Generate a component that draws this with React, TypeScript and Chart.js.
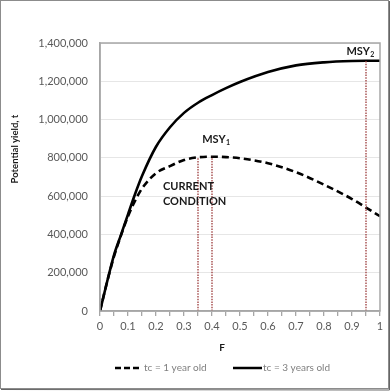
import React, { useEffect, useRef } from "react";
import { Chart, registerables } from "chart.js";

Chart.register(...registerables);

const fValues = [0, 0.025, 0.05, 0.075, 0.1, 0.125, 0.15, 0.2, 0.25, 0.3, 0.35, 0.4, 0.45, 0.5, 0.6, 0.7, 0.8, 0.9, 0.95, 1.0];
const yieldTc1 = [0, 150000, 285000, 395000, 495000, 575000, 640000, 720000, 757000, 789000, 803000, 806000, 804000, 798000, 772000, 725000, 660000, 585000, 540000, 495000];
const yieldTc3 = [0, 150000, 292000, 398000, 505000, 610000, 705000, 858000, 960000, 1035000, 1088000, 1128000, 1164000, 1196000, 1248000, 1283000, 1299000, 1306000, 1307000, 1307000];
const refF = [0.35, 0.4, 0.95];
const refTop = [803000, 806000, 1307000];
const yTicks = [0, 200000, 400000, 600000, 800000, 1000000, 1200000, 1400000];
const seriesLabels = ["tc = 1 year old", "tc = 3 years old"];

const FONT = "Lato, 'Liberation Sans', sans-serif";

export default function App() {
  const ref = useRef<HTMLCanvasElement>(null);
  useEffect(() => {
    if (!ref.current) return;
    const overlay = {
      id: "overlay",
      afterDraw(chart: any) {
        const ctx = chart.ctx;
        const ca = chart.chartArea;
        const xs = chart.scales.x;
        const ys = chart.scales.y;
        ctx.save();
        // plot area frame
        ctx.strokeStyle = "#a6a6a6";
        ctx.lineWidth = 1.5;
        ctx.strokeRect(ca.left, ca.top, ca.right - ca.left, ca.bottom - ca.top);
        // outer frame
        ctx.strokeStyle = "#8c8c8c";
        ctx.lineWidth = 1;
        ctx.strokeRect(0.5, 0.5, 388, 388);
        ctx.strokeStyle = "#666";
        ctx.beginPath();
        ctx.moveTo(389.5, 1);
        ctx.lineTo(389.5, 390);
        ctx.lineTo(1, 389.5);
        ctx.stroke();

        // annotation texts
        ctx.fillStyle = "#1a1a1a";
        ctx.textBaseline = "middle";
        ctx.textAlign = "left";
        const drawMsy = (x: number, y: number, sub: string) => {
          ctx.font = `bold 11px ${FONT}`;
          ctx.fillText("MSY", x, y);
          const w = ctx.measureText("MSY").width;
          ctx.font = `bold 7px ${FONT}`;
          ctx.fillText(sub, x + w + 0.5, y + 3);
        };
        drawMsy(xs.getPixelForValue(0.365), ys.getPixelForValue(895000), "1");
        drawMsy(xs.getPixelForValue(0.88), ys.getPixelForValue(1354000), "2");
        ctx.font = `bold 11px ${FONT}`;
        ctx.fillText("CURRENT", xs.getPixelForValue(0.225), ys.getPixelForValue(653000));
        ctx.fillText("CONDITION", xs.getPixelForValue(0.225), ys.getPixelForValue(572000));

        // axis titles
        ctx.fillStyle = "#1a1a1a";
        ctx.font = `bold 10px ${FONT}`;
        ctx.textAlign = "center";
        ctx.fillText("F", 222, 348);
        ctx.save();
        ctx.translate(15, 149);
        ctx.rotate(-Math.PI / 2);
        ctx.font = `bold 9.5px ${FONT}`;
        ctx.fillText("Potential yield, t", 0, 0);
        ctx.restore();

        // legend
        ctx.strokeStyle = "#000";
        ctx.lineWidth = 2.5;
        ctx.setLineDash([6, 3]);
        ctx.beginPath();
        ctx.moveTo(115, 368);
        ctx.lineTo(141, 368);
        ctx.stroke();
        ctx.setLineDash([]);
        ctx.beginPath();
        ctx.moveTo(233, 368);
        ctx.lineTo(262, 368);
        ctx.stroke();
        ctx.fillStyle = "#7f7f7f";
        ctx.font = `10px ${FONT}`;
        ctx.textAlign = "left";
        ctx.fillText(seriesLabels[0], 144, 368);
        ctx.fillText(seriesLabels[1], 263, 368);
        ctx.restore();
      },
    };

    const refDatasets = refF.map((f, i) => ({
      label: "ref" + i,
      data: [
        { x: f, y: 0 },
        { x: f, y: refTop[i] },
      ],
      borderColor: "#9c3b3b",
      borderWidth: 1.3,
      borderDash: [1.5, 1.2],
      pointRadius: 0,
      tension: 0,
    }));

    const chart = new Chart(ref.current, {
      type: "line",
      data: {
        datasets: [
          ...refDatasets,
          {
            label: seriesLabels[0],
            data: fValues.map((f, i) => ({ x: f, y: yieldTc1[i] })),
            borderColor: "#000",
            borderWidth: 2.6,
            borderDash: [7, 4],
            pointRadius: 0,
            cubicInterpolationMode: "monotone",
          },
          {
            label: seriesLabels[1],
            data: fValues.map((f, i) => ({ x: f, y: yieldTc3[i] })),
            borderColor: "#000",
            borderWidth: 2.6,
            pointRadius: 0,
            cubicInterpolationMode: "monotone",
          },
        ],
      },
      options: {
        animation: false,
        responsive: false,
        maintainAspectRatio: false,
        layout: { padding: { top: 43, right: 12, left: 0, bottom: 0 } },
        plugins: { legend: { display: false }, tooltip: { enabled: false }, title: { display: false } },
        scales: {
          x: {
            type: "linear",
            min: 0,
            max: 1,
            afterFit: (s: any) => {
              s.height = 81;
            },
            afterBuildTicks: (s: any) => {
              const t = [];
              for (let i = 0; i <= 20; i++) t.push({ value: i / 20 });
              s.ticks = t;
            },
            ticks: {
              autoSkip: false,
              maxRotation: 0,
              padding: 4,
              color: "#595959",
              font: { family: FONT, size: 11 },
              callback: (v: any) => {
                const k = Math.round(Number(v) * 20);
                if (k % 2 !== 0) return "";
                const val = k / 20;
                return val === 0 ? "0" : val === 1 ? "1" : val.toFixed(1);
              },
            },
            grid: { display: true, drawOnChartArea: false, drawTicks: true, tickLength: 5, color: "#a6a6a6", lineWidth: 1.3 },
            border: { display: true, color: "#a6a6a6", width: 1.5 },
          },
          y: {
            type: "linear",
            min: 0,
            max: 1400000,
            afterFit: (s: any) => {
              s.width = 100;
            },
            afterBuildTicks: (s: any) => {
              s.ticks = yTicks.map((v) => ({ value: v }));
            },
            ticks: {
              padding: 12,
              color: "#595959",
              font: { family: FONT, size: 11 },
              callback: (v: any) => Number(v).toLocaleString("en-US"),
            },
            grid: { color: "#e6e6e6", drawTicks: false, lineWidth: 1 },
            border: { display: true, color: "#a6a6a6", width: 1.5 },
          },
        },
      },
      plugins: [overlay],
    } as any);
    return () => chart.destroy();
  }, []);
  return (
    <div style={{ position: "fixed", left: 0, top: 0, width: 392, height: 392, background: "#fff" }}>
      <canvas ref={ref} width={392} height={392} style={{ width: 392, height: 392, display: "block" }} />
    </div>
  );
}
